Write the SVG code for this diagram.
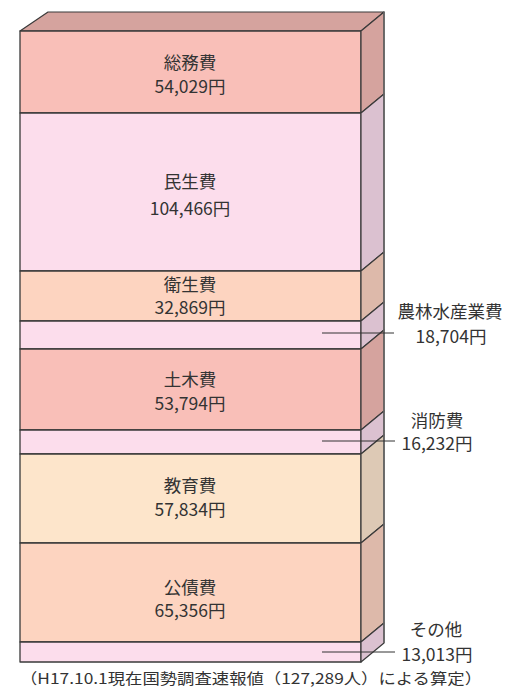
<svg xmlns="http://www.w3.org/2000/svg" width="508" height="691" viewBox="0 0 508 691">
<style>
.f{stroke:#3a3a3a;stroke-width:1.3;stroke-linejoin:round}
.s{stroke:#3a3a3a;stroke-width:1.2;stroke-linejoin:round}
.t{font-family:"Noto Sans CJK JP","Noto Sans",sans-serif;font-size:17.5px;fill:#333;text-anchor:middle}
.r{font-family:"Noto Sans CJK JP","Noto Sans",sans-serif;font-size:17.5px;fill:#333;text-anchor:middle}
.ld{stroke:#333;stroke-width:1;fill:none}
.red{fill:#F9BFB8}.reds{fill:#D5A39E}
.pk{fill:#FCDDEC}.pks{fill:#DBC1D0}
.pe{fill:#FDD4C0}.pes{fill:#DDB9AA}
.ye{fill:#FDE5CB}.yes{fill:#DDC9B5}
</style>
<g id="top">
<polygon class="s reds" points="20,31 48,12 384,12 361,31"/>
</g>
<g id="soumu">
<rect class="f red" x="20" y="31" width="341" height="82"/>
<polygon class="s reds" points="361,31 384,12 384,94 361,113"/>
<text class="t" x="190" y="69">総務費</text>
<text class="t" x="190" y="93">54,029円</text>
</g>
<g id="minsei">
<rect class="f pk" x="20" y="113" width="341" height="158"/>
<polygon class="s pks" points="361,113 384,94 384,252 361,271"/>
<text class="t" x="190" y="188">民生費</text>
<text class="t" x="190" y="215">104,466円</text>
</g>
<g id="eisei">
<rect class="f pe" x="20" y="271" width="341" height="50"/>
<polygon class="s pes" points="361,271 384,252 384,302 361,321"/>
<text class="t" x="190" y="291">衛生費</text>
<text class="t" x="190" y="314">32,869円</text>
</g>
<g id="nourin">
<rect class="f pk" x="20" y="321" width="341" height="28"/>
<polygon class="s pks" points="361,321 384,302 384,330 361,349"/>
<text class="r" x="450" y="318">農林水産業費</text>
<text class="r" x="451" y="343">18,704円</text>
</g>
<g id="doboku">
<rect class="f red" x="20" y="349" width="341" height="81"/>
<polygon class="s reds" points="361,349 384,330 384,411 361,430"/>
<text class="t" x="190" y="386">土木費</text>
<text class="t" x="190" y="410">53,794円</text>
</g>
<g id="shoubou">
<rect class="f pk" x="20" y="430" width="341" height="24"/>
<polygon class="s pks" points="361,430 384,411 384,435 361,454"/>
<text class="r" x="437" y="427">消防費</text>
<text class="r" x="437" y="450">16,232円</text>
</g>
<g id="kyouiku">
<rect class="f ye" x="20" y="454" width="341" height="89"/>
<polygon class="s yes" points="361,454 384,435 384,524 361,543"/>
<text class="t" x="190" y="492">教育費</text>
<text class="t" x="190" y="516">57,834円</text>
</g>
<g id="kousai">
<rect class="f pe" x="20" y="543" width="341" height="99"/>
<polygon class="s pes" points="361,543 384,524 384,623 361,642"/>
<text class="t" x="190" y="594">公債費</text>
<text class="t" x="190" y="617">65,356円</text>
</g>
<g id="sonota">
<rect class="f pk" x="20" y="642" width="341" height="20"/>
<polygon class="s pks" points="361,642 384,623 384,643 361,662"/>
<text class="r" x="436" y="636">その他</text>
<text class="r" x="437" y="661">13,013円</text>
</g>
<line x1="384" y1="12" x2="384" y2="643" stroke="#666" stroke-width="1.6"/>
<g id="connectors">
<line class="ld" x1="322" y1="333" x2="394" y2="333"/>
<line class="ld" x1="322" y1="441" x2="395" y2="441"/>
<line class="ld" x1="322" y1="652" x2="395" y2="652"/>
</g>
<g id="footer">
<text x="20" y="684" textLength="462" lengthAdjust="spacingAndGlyphs" style="font-family:'Noto Sans CJK JP','Noto Sans',sans-serif;font-size:15px;fill:#333">（H17.10.1現在国勢調査速報値（127,289人）による算定）</text>
</g>
</svg>
